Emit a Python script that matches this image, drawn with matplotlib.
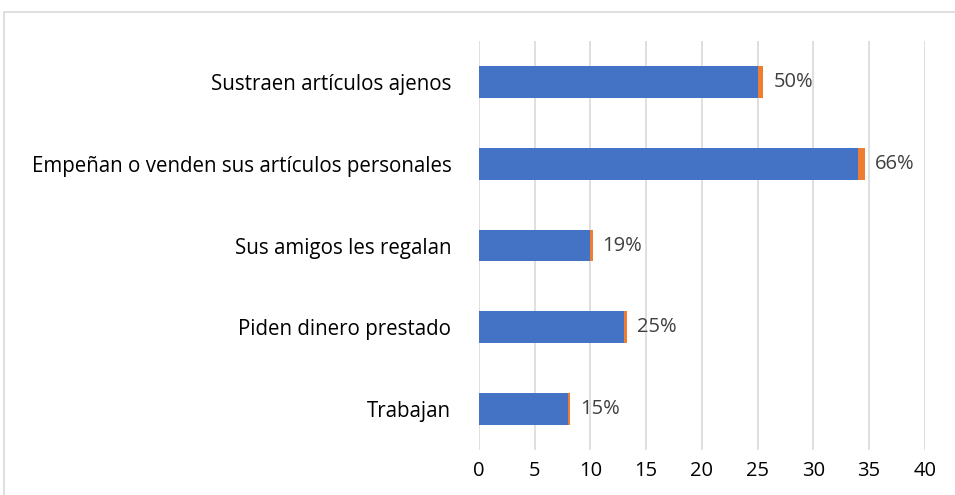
import matplotlib.pyplot as plt
from matplotlib.patches import Rectangle

categories = ['Trabajan', 'Piden dinero prestado', 'Sus amigos les regalan',
              'Empeñan o venden sus artículos personales', 'Sustraen artículos ajenos']
counts = [8, 13, 10, 34, 25]
shares = [0.15, 0.25, 0.19, 0.66, 0.50]
labels = ['15%', '25%', '19%', '66%', '50%']
xticks = [0, 5, 10, 15, 20, 25, 30, 35, 40]

plt.rcParams['font.family'] = ['Open Sans', 'DejaVu Sans']

fig = plt.figure(figsize=(9.55, 4.95), dpi=100)
ax = fig.add_axes([0.5016, 0.091, 0.4668, 0.826])

# outer chart frame
fig.patches.append(Rectangle((0.004, -0.01), 1.2, 0.986, transform=fig.transFigure,
                             fill=False, edgecolor='#d9d9d9', linewidth=1.2))

y = range(len(categories))
ax.barh(y, counts, height=0.39, color='#4472c4', zorder=2)
ax.barh(y, shares, left=counts, height=0.39, color='#ed7d31', zorder=2)

for i in y:
    ax.text(counts[i] + shares[i] + 0.9, i, labels[i], va='center', ha='left',
            fontsize=14.5, color='#404040')

ax.set_xlim(0, 40)
ax.set_ylim(-0.5, len(categories) - 0.5)
ax.set_xticks(xticks)
ax.set_yticks(list(y))
ax.set_yticklabels(categories, fontsize=14.8, color='black')
ax.tick_params(axis='x', labelsize=14.5, colors='black', length=0, pad=8)
ax.tick_params(axis='y', length=0, pad=20)
ax.grid(axis='x', color='#d9d9d9', linewidth=1.2, zorder=0)
for s in ax.spines.values():
    s.set_visible(False)

fig.savefig('out.png', dpi=100)
